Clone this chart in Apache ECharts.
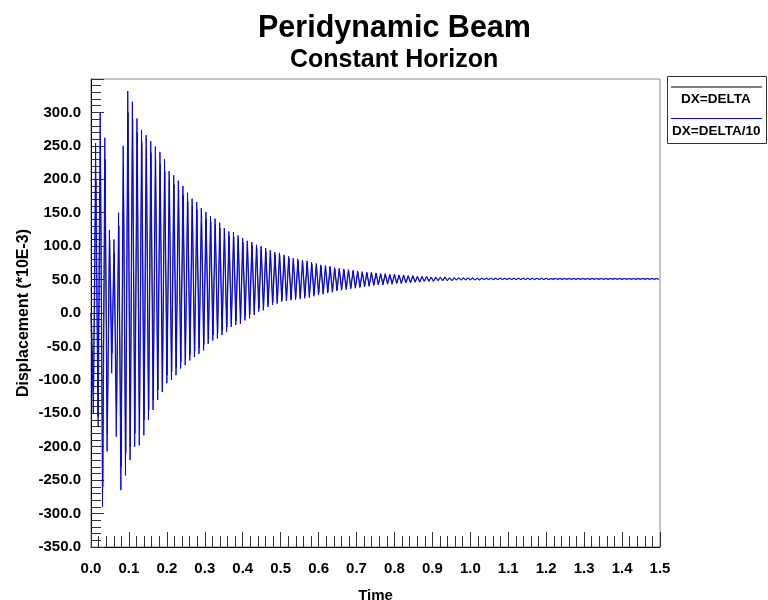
<!DOCTYPE html>
<html>
<head>
<meta charset="utf-8">
<script src="https://cdn.jsdelivr.net/npm/echarts@6/dist/echarts.min.js"></script>
<style>html,body{margin:0;padding:0;background:#fff;}#c{width:768px;height:600px;}</style>
</head>
<body>
<div id="c"></div>
<script>
// ---- data ----
const seriesNames = ['DX=DELTA', 'DX=DELTA/10'];
const xTickLabels = ['0.0','0.1','0.2','0.3','0.4','0.5','0.6','0.7','0.8','0.9','1.0','1.1','1.2','1.3','1.4','1.5'];
// successive extrema (peak, trough, ...) sampled every half period
const halfPeriod = 0.006058;
const startDelta = 0.0008;
const startDelta10 = 0.0;
const dxDelta = [
 0,-120,200,-170,250,-260,230,-180,110,-60,90,-150,130,-230,220,-210,300,-200,290,-180,
 270,-175,255,-160,245,-145,240,-130,230,-115,222,-105,212,-93,198,-88,192,-82,184,-73,
 176,-68,167,-62,159,-57,155,-52,146,-47,141,-38,136,-33,132,-30,127,-26,119,-21,
 115,-15,114,-12,110,-10,106,-5,102,-2,101,3,97,7,95,9,92,13,90,16,
 87,18,86,20,84,21,82,22,79,23,78,24,76,25,75,26,73,28,71,30,
 70,31,69,32,68,33,66,35,65,36,64,37,63,38,62,39,61,40,60,41,
 60,41,59,42,59,43,58,43,58,44,57,44,57,45,56,45,56,46,55,46,
 55,47,54,47,54,48,54,48,53,48,53,49,53,49,53,49,52,49,52,50,
 52,50,52,50,52,50,52,50,52,50,52,50,52,50,52,50,52,50,52,50,
 52,50,52,50,52,50,52,50,52,50,52,50,52,50,52,50,52,50,52,50,
 51.5,50.5,51.5,50.5,51.5,50.5,51.5,50.5,51.5,50.5,51.5,50.5,51.5,50.5,51.5,50.5,51.5,50.5,51.5,50.5,
 51.5,50.5,51.5,50.5,51.5,50.5,51.5,50.5,51.5,50.5,51.5,50.5,51.5,50.5,51.5,50.5,51.5,50.5,51.5,50.5,
 51.5,50.5,51.5,50.5,51.5,50.5,51.5,50.5
];
const dxDelta10 = [
 0,-150,254,-155,300,-290,262,-207,124,-90,110,-185,150,-265,250,-243,332,-220,316,-200,
 291,-198,274,-183,266,-160,257,-145,249,-130,241,-118,230,-105,212,-100,206,-93,198,-83,
 190,-78,180,-71,171,-66,166,-61,157,-56,151,-46,145,-41,141,-38,135,-33,127,-28,
 122,-21,121,-18,116,-16,112,-11,108,-8,106,-3,102,2,100,4,97,9,94,12,
 91,14,90,17,87,18,85,19,82,20,81,21,79,22,78,23,76,25,74,27,
 72,28,71,30,70,31,68,33,67,34,66,35,65,36,64,37,63,38,62,39,
 61,40,61,41,60,42,59,42,59,43,58,43,58,44,57,44,57,45,56,45,
 56,46,55,46,55,47,55,47,54,47,54,48,54,48,54,48,53,48,53,49,
 53,49,53,49,53,49,53,49,52,49,52,50,52,50,52,50,52,50,52,50,
 52,50,52,50,52,50,52,50,52,50,52,50,52,50,52,50,52,50,52,50,
 51.5,50.5,51.5,50.5,51.5,50.5,51.5,50.5,51.5,50.5,51.5,50.5,51.5,50.5,51.5,50.5,51.5,50.5,51.5,50.5,
 51.5,50.5,51.5,50.5,51.5,50.5,51.5,50.5,51.5,50.5,51.5,50.5,51.5,50.5,51.5,50.5,51.5,50.5,51.5,50.5,
 51.5,50.5,51.5,50.5,51.5,50.5,51.5,50.5
];

function toPairs(values, start) {
  return values.map((v, i) => [start + i * halfPeriod, v]);
}

const FONT = '"Liberation Sans", Arial, sans-serif';
const chart = echarts.init(document.getElementById('c'), null, {renderer: 'canvas'});

const option = {
  animation: false,
  backgroundColor: '#ffffff',
  title: [
    {text: 'Peridynamic Beam', left: 253, top: 8,
     textStyle: {fontFamily: FONT, fontWeight: 'bold', fontSize: 30.5, color: '#000'}},
    {text: 'Constant Horizon', left: 285, top: 43,
     textStyle: {fontFamily: FONT, fontWeight: 'bold', fontSize: 25, color: '#000'}}
  ],
  legend: [
    {data: [seriesNames[0]], left: 676, top: 92, icon: 'none', itemWidth: 0, itemHeight: 0,
     padding: 0, selectedMode: false,
     textStyle: {fontFamily: FONT, fontWeight: 'bold', fontSize: 13.5, color: '#000'}},
    {data: [seriesNames[1]], left: 667, top: 124, icon: 'none', itemWidth: 0, itemHeight: 0,
     padding: 0, selectedMode: false,
     textStyle: {fontFamily: FONT, fontWeight: 'bold', fontSize: 13.5, color: '#000'}}
  ],
  graphic: [
    {type: 'rect', shape: {x: 667.5, y: 76.5, width: 99, height: 67},
     style: {fill: 'none', stroke: '#333', lineWidth: 1}, z: 10},
    {type: 'line', shape: {x1: 671, y1: 87, x2: 762, y2: 87},
     style: {stroke: '#808080', lineWidth: 2}, z: 10},
    {type: 'line', shape: {x1: 671, y1: 118.5, x2: 762, y2: 118.5},
     style: {stroke: '#0000ff', lineWidth: 1}, z: 10}
  ],
  grid: {left: 91, right: 108, top: 79, bottom: 53, show: true, outerBoundsMode: 'none',
         containLabel: false, borderColor: '#888', borderWidth: 1, backgroundColor: 'transparent'},
  xAxis: {
    type: 'value', min: 0, max: 1.5, interval: 0.1,
    name: 'Time', nameLocation: 'middle', nameGap: 41, nameMoveOverlap: false,
    nameTextStyle: {fontFamily: FONT, fontWeight: 'bold', fontSize: 15, color: '#000'},
    axisLine: {show: true, onZero: false, lineStyle: {color: '#000', width: 1}},
    axisTick: {show: true, inside: true, length: 15, lineStyle: {color: '#333'}},
    minorTick: {show: true, splitNumber: 5, length: 11, lineStyle: {color: '#333'}},
    splitLine: {show: false},
    axisLabel: {margin: 14, fontFamily: FONT, fontWeight: 'bold', fontSize: 15, color: '#000',
      formatter: (v) => xTickLabels[Math.round(v * 10)]}
  },
  yAxis: {
    type: 'value', min: -350, max: 350, interval: 50,
    name: 'Displacement (*10E-3)', nameLocation: 'middle', nameGap: 59, nameRotate: 90,
    nameMoveOverlap: false,
    nameTextStyle: {fontFamily: FONT, fontWeight: 'bold', fontSize: 16, color: '#000'},
    axisLine: {show: true, onZero: false, lineStyle: {color: '#000', width: 1}},
    axisTick: {show: true, inside: true, length: 13, lineStyle: {color: '#333'}},
    minorTick: {show: true, splitNumber: 5, length: 10, lineStyle: {color: '#333'}},
    splitLine: {show: false},
    axisLabel: {margin: 10, showMaxLabel: false, fontFamily: FONT, fontWeight: 'bold', fontSize: 15, color: '#000',
      formatter: (v) => v.toFixed(1)}
  },
  series: [
    {name: seriesNames[0], type: 'line', data: toPairs(dxDelta, startDelta), showSymbol: false,
     symbol: 'none', lineStyle: {color: '#000030', width: 1, opacity: 0.8}, itemStyle: {color: '#808080'}, z: 2},
    {name: seriesNames[1], type: 'line', data: toPairs(dxDelta10, startDelta10), showSymbol: false,
     symbol: 'none', lineStyle: {color: '#0000ff', width: 1}, itemStyle: {color: '#0000ff'}, z: 3}
  ]
};
chart.setOption(option);
</script>
</body>
</html>
